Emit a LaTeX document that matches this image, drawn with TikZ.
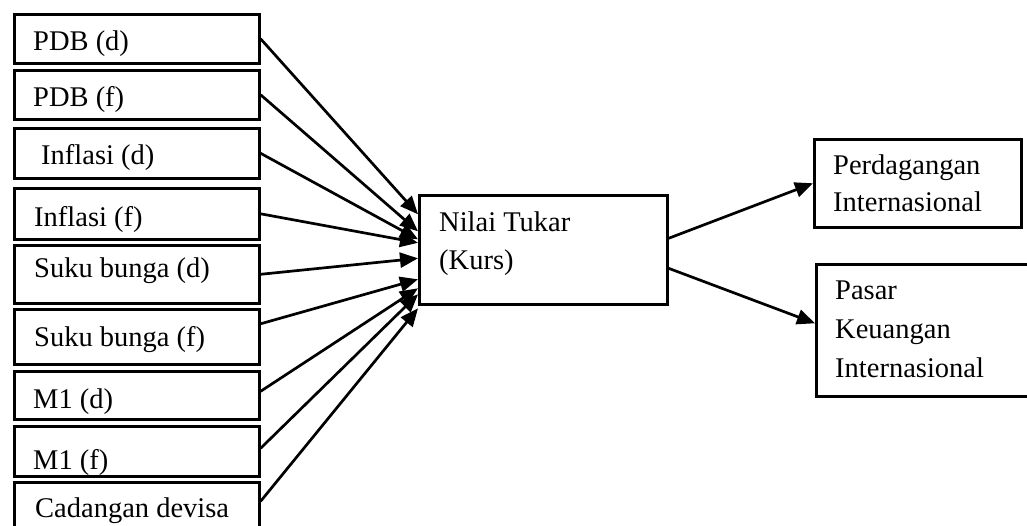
\documentclass[tikz,border=0pt]{standalone}
\usepackage{fontspec}
\setmainfont{Liberation Serif}
\usetikzlibrary{arrows.meta}
\begin{document}
\begin{tikzpicture}[x=1pt,y=-1pt,
  box/.style={draw=black,line width=2.6pt,inner sep=0pt,anchor=north west},
  lbl/.style={font=\fontsize{28.5}{34}\selectfont,inner sep=0pt,anchor=base west},
  arr/.style={line width=2.7pt,-{Triangle[length=18pt,width=15pt]}}]
\useasboundingbox (0,0) rectangle (1027,526);
% left boxes
\node[box,minimum width=245pt,minimum height=49pt] (b1) at (13,13) {};
\node[box,minimum width=245pt,minimum height=49pt] (b2) at (13,69) {};
\node[box,minimum width=245pt,minimum height=50pt] (b3) at (13,127) {};
\node[box,minimum width=245pt,minimum height=51pt] (b4) at (13,187) {};
\node[box,minimum width=245pt,minimum height=58pt] (b5) at (13,244) {};
\node[box,minimum width=245pt,minimum height=55pt] (b6) at (13,308) {};
\node[box,minimum width=245pt,minimum height=48pt] (b7) at (13,370) {};
\node[box,minimum width=245pt,minimum height=50pt] (b8) at (13,425) {};
\node[box,minimum width=245pt,minimum height=70pt] (b9) at (13,481) {};
\node[lbl] (t1) at (33,51) {PDB (d)};
\node[lbl] (t2) at (33,107) {PDB (f)};
\node[lbl] (t3) at (41,165) {Inflasi (d)};
\node[lbl] (t4) at (34,227) {Inflasi (f)};
\node[lbl] (t5) at (34,278) {Suku bunga (d)};
\node[lbl] (t6) at (34,346) {Suku bunga (f)};
\node[lbl] (t7) at (33,408) {M1 (d)};
\node[lbl] (t8) at (33,469) {M1 (f)};
\node[lbl] (t9) at (35,517) {Cadangan devisa};
% centre box
\node[box,minimum width=248pt,minimum height=109pt] (c) at (418,194) {};
\node[lbl] (c1) at (439,232) {Nilai Tukar};
\node[lbl] (c2) at (439,270) {(Kurs)};
% right boxes
\node[box,minimum width=207pt,minimum height=88pt] (p) at (813,138) {};
\node[lbl] (p1) at (833,175) {Perdagangan};
\node[lbl] (p2) at (833,212) {Internasional};
\node[box,minimum width=230pt,minimum height=132pt] (q) at (815,263) {};
\node[lbl] (q1) at (835,300) {Pasar};
\node[lbl] (q2) at (835,338) {Keuangan};
\node[lbl] (q3) at (835,377) {Internasional};
% arrows into centre
\draw[arr] (b1.east) -- ([yshift=35.5pt]c.west);
\draw[arr] (b2.east) -- ([yshift=18.5pt]c.west);
\draw[arr] (b3.east) -- ([yshift=10.5pt]c.west);
\draw[arr] (b4.east) -- ([yshift=7pt]c.west);
\draw[arr] (b5.east) -- ([yshift=-8.5pt]c.west);
\draw[arr] ([yshift=13pt]b6.east) -- ([yshift=-29.5pt]c.west);
\draw[arr] ([yshift=4pt]b7.east) -- ([yshift=-38.5pt]c.west);
\draw[arr] ([yshift=3pt]b8.east) -- ([yshift=-44.5pt]c.west);
\draw[arr] ([yshift=16pt]b9.east) -- ([yshift=-58.5pt]c.west);
% arrows out
\draw[arr] ([yshift=11.5pt]c.east) -- (p.west);
\draw[arr] ([yshift=-18.5pt]c.east) -- ([yshift=7pt]q.west);
\end{tikzpicture}
\end{document}
